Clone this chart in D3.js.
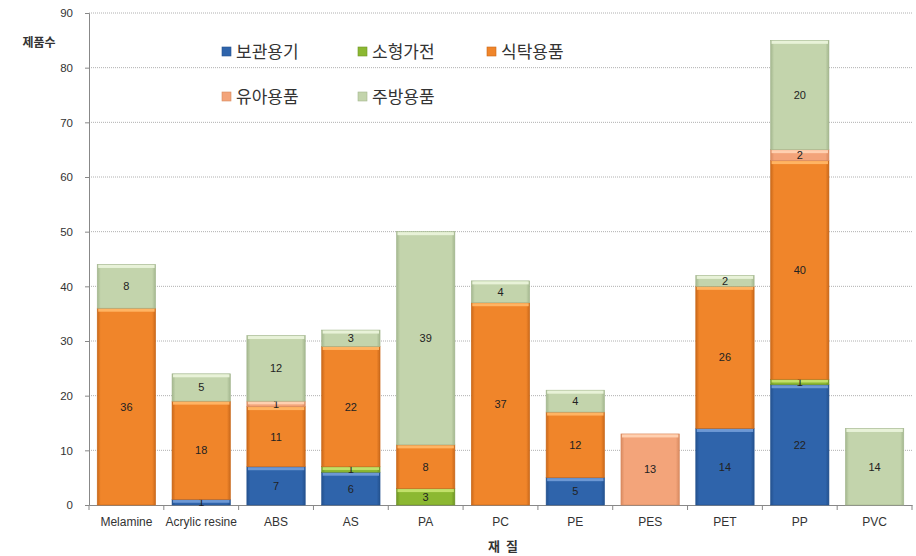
<!DOCTYPE html>
<html>
<head>
<meta charset="utf-8">
<script src="https://cdn.jsdelivr.net/npm/d3@7"></script>
<style>
  body { margin: 0; background: #fff; }
  svg { font-family: "Noto Sans CJK KR", "Noto Sans", sans-serif; }
</style>
</head>
<body>
<svg id="chart" width="916" height="556"></svg>
<script>
// data
const materials = ['Melamine', 'Acrylic resine', 'ABS', 'AS', 'PA', 'PC', 'PE', 'PES', 'PET', 'PP', 'PVC'];
const seriesNames = ['보관용기', '소형가전', '식탁용품', '유아용품', '주방용품'];
const storage   = [0, 1, 7, 6, 0, 0, 5, 0, 14, 22, 0];
const appliance = [0, 0, 0, 1, 3, 0, 0, 0, 0, 1, 0];
const tableware = [36, 18, 11, 22, 8, 37, 12, 0, 26, 40, 0];
const baby      = [0, 0, 1, 0, 0, 0, 0, 13, 0, 2, 0];
const kitchen   = [8, 5, 12, 3, 39, 4, 4, 0, 2, 20, 14];
const yTicks = [0, 10, 20, 30, 40, 50, 60, 70, 80, 90];

const colors = ['#2f64ab', '#8cb832', '#f0852a', '#f3a47a', '#c3d4ac'];
const darks  = ['#24528f', '#6f9426', '#c9681a', '#d88a60', '#a3b68e'];
const lights = ['#6d98d4', '#c2e06a', '#ffb463', '#ffd0b0', '#e8f2d8'];

const series = [storage, appliance, tableware, baby, kitchen];
const rows = materials.map((m, i) => {
  const r = { material: m };
  seriesNames.forEach((s, k) => r[s] = series[k][i]);
  return r;
});
const stacked = d3.stack().keys(seriesNames)(rows);

const svg = d3.select('#chart');
const mLeft = 89, mRight = 912, mTop = 13, mBottom = 505;

const x = d3.scaleBand().domain(materials).range([mLeft, mRight]).paddingInner(0.22).paddingOuter(0.11);
const y = d3.scaleLinear().domain([0, 90]).range([mBottom, mTop]);

// gradients for bevel-like look
const defs = svg.append('defs');
seriesNames.forEach((s, k) => {
  const g = defs.append('linearGradient').attr('id', 'g' + k).attr('x1', 0).attr('x2', 1).attr('y1', 0).attr('y2', 0);
  g.append('stop').attr('offset', '0%').attr('stop-color', darks[k]);
  g.append('stop').attr('offset', '6%').attr('stop-color', colors[k]);
  g.append('stop').attr('offset', '94%').attr('stop-color', colors[k]);
  g.append('stop').attr('offset', '100%').attr('stop-color', darks[k]);
});

// gridlines
svg.append('g').selectAll('line').data(yTicks.filter(t => t > 0)).enter().append('line')
  .attr('x1', mLeft).attr('x2', mRight)
  .attr('y1', d => y(d)).attr('y2', d => y(d))
  .attr('stroke', '#b0b0b0').attr('stroke-width', 1).attr('stroke-dasharray', '1,1');

// y axis
const yAxis = svg.append('g').attr('transform', 'translate(' + mLeft + ',0)')
  .call(d3.axisLeft(y).tickValues(yTicks).tickSize(4).tickPadding(12));
yAxis.select('.domain').attr('stroke', '#888');
yAxis.selectAll('.tick line').attr('stroke', '#888');
yAxis.selectAll('text').attr('font-size', 11.5).attr('fill', '#333').attr('font-family', 'Arial, "Liberation Sans", sans-serif');

// x axis
const xAxis = svg.append('g').attr('transform', 'translate(0,' + mBottom + ')')
  .call(d3.axisBottom(x).tickSize(0).tickPadding(12));
xAxis.select('.domain').attr('stroke', '#888');
xAxis.selectAll('text').attr('font-size', 12).attr('fill', '#333').attr('font-family', 'Arial, "Liberation Sans", sans-serif');
const edges = d3.range(materials.length + 1).map(i => mLeft + i * (mRight - mLeft) / materials.length);
xAxis.selectAll('.edge').data(edges).enter().append('line').attr('class', 'edge')
  .attr('x1', d => d).attr('x2', d => d).attr('y1', 0).attr('y2', 5).attr('stroke', '#888');

// bars
const layer = svg.append('g').selectAll('g').data(stacked).enter().append('g');
layer.each(function(ser, k) {
  const segs = ser.filter(d => d[1] - d[0] > 0);
  const g = d3.select(this);
  g.selectAll('rect.bar').data(segs).enter().append('rect').attr('class', 'bar')
    .attr('x', d => x(d.data.material))
    .attr('width', x.bandwidth())
    .attr('y', d => y(d[1]))
    .attr('height', d => y(d[0]) - y(d[1]))
    .attr('fill', 'url(#g' + k + ')')
    .attr('stroke', darks[k]).attr('stroke-width', 0.6);
  g.selectAll('rect.hl').data(segs).enter().append('rect').attr('class', 'hl')
    .attr('x', d => x(d.data.material) + 1)
    .attr('width', x.bandwidth() - 2)
    .attr('y', d => y(d[1]) + 0.5)
    .attr('height', d => Math.min(3, (y(d[0]) - y(d[1])) / 2))
    .attr('fill', lights[k]);
  g.selectAll('text').data(segs).enter().append('text')
    .attr('x', d => x(d.data.material) + x.bandwidth() / 2)
    .attr('y', d => (y(d[0]) + y(d[1])) / 2 + 4)
    .attr('text-anchor', 'middle')
    .attr('font-size', 11)
    .attr('font-family', 'Arial, "Liberation Sans", sans-serif')
    .attr('fill', '#222')
    .text(d => d[1] - d[0]);
});

// axis titles
svg.append('text').attr('x', 39).attr('y', 47).attr('text-anchor', 'middle')
  .attr('font-size', 12).attr('font-weight', 'bold').attr('fill', '#333').text('제품수');
svg.append('text').attr('x', 503).attr('y', 551).attr('text-anchor', 'middle')
  .attr('font-size', 13).attr('font-weight', 'bold').attr('fill', '#333').text('재\u00a0\u00a0질');

// legend
const legendPos = [[222, 52], [358, 52], [487, 52], [222, 97], [358, 97]];
const legend = svg.append('g').selectAll('g').data(seriesNames).enter().append('g')
  .attr('transform', (d, i) => 'translate(' + legendPos[i][0] + ',' + legendPos[i][1] + ')');
legend.append('rect').attr('x', 0).attr('y', -5).attr('width', 9).attr('height', 9)
  .attr('fill', (d, i) => colors[i]).attr('stroke', (d, i) => darks[i]).attr('stroke-width', 0.6);
legend.append('text').attr('x', 14).attr('y', 6).attr('font-size', 17).attr('fill', '#333').text(d => d);
</script>
</body>
</html>
